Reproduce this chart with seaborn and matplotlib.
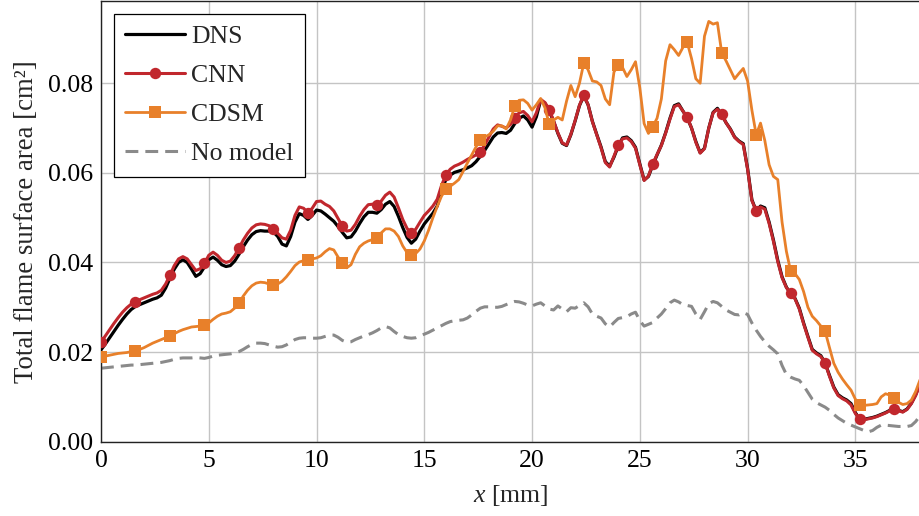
import numpy as np
import pandas as pd
import matplotlib
matplotlib.use("Agg")
import matplotlib.pyplot as plt
import seaborn as sns

# ---------------- data (every 0.2 mm) ----------------
x_mm = [round(0.2 * i, 1) for i in range(191)]  # 0.0 ... 38.0 mm

dns = [
    .0205, .0218, .0232, .0246, .0260, .0273, .0285, .0295, .0302, .0306,   # 0.0-1.8
    .0310, .0314, .0318, .0321, .0327, .0343, .0365, .0385, .0400, .0406,   # 2.0-3.8
    .0400, .0385, .0369, .0375, .0390, .0406, .0412, .0405, .0395, .0391,   # 4.0-5.8
    .0393, .0403, .0418, .0435, .0450, .0462, .0469, .0471, .0470, .0470,   # 6.0-7.8
    .0468, .0458, .0441, .0437, .0458, .0490, .0509, .0505, .0496, .0505,   # 8.0-9.8
    .0517, .0515, .0508, .0500, .0492, .0480, .0467, .0455, .0457, .0470,   # 10.0-11.8
    .0487, .0502, .0512, .0512, .0510, .0518, .0530, .0536, .0525, .0503,   # 12.0-13.8
    .0478, .0456, .0443, .0452, .0470, .0486, .0498, .0510, .0526, .0560,   # 14.0-15.8
    .0585, .0595, .0601, .0604, .0607, .0611, .0616, .0625, .0637, .0650,   # 16.0-17.8
    .0665, .0680, .0689, .0690, .0688, .0695, .0710, .0722, .0727, .0718,   # 18.0-19.8
    .0702, .0725, .0762, .0755, .0738, .0715, .0688, .0666, .0661, .0685,   # 20.0-21.8
    .0716, .0750, .0772, .0752, .0715, .0686, .0658, .0625, .0615, .0635,   # 22.0-23.8
    .0660, .0678, .0680, .0672, .0657, .0620, .0584, .0592, .0617, .0640,   # 24.0-25.8
    .0662, .0690, .0722, .0750, .0754, .0738, .0723, .0700, .0670, .0645,   # 26.0-27.8
    .0655, .0700, .0735, .0744, .0730, .0712, .0698, .0680, .0671, .0665,   # 28.0-29.8
    .0610, .0540, .0515, .0526, .0522, .0490, .0450, .0405, .0368, .0345,   # 30.0-31.8
    .0330, .0320, .0298, .0265, .0235, .0206, .0198, .0192, .0175, .0148,   # 32.0-33.8
    .0122, .0105, .0098, .0093, .0085, .0065, .0050, .0050, .0052, .0054,   # 34.0-35.8
    .0057, .0061, .0065, .0070, .0072, .0070, .0067, .0073, .0086, .0105,   # 36.0-37.8
    .0130]

cnn = [
    .0222, .0236, .0250, .0264, .0277, .0289, .0299, .0307, .0312, .0317,
    .0321, .0325, .0329, .0332, .0338, .0352, .0372, .0393, .0408, .0413,
    .0408, .0395, .0382, .0386, .0398, .0416, .0423, .0416, .0405, .0400,
    .0403, .0415, .0432, .0450, .0465, .0477, .0484, .0486, .0485, .0482,
    .0475, .0465, .0455, .0452, .0472, .0505, .0524, .0521, .0511, .0521,
    .0536, .0537, .0530, .0525, .0515, .0498, .0481, .0470, .0472, .0485,
    .0503, .0518, .0529, .0530, .0528, .0537, .0550, .0557, .0546, .0522,
    .0496, .0476, .0465, .0474, .0490, .0505, .0515, .0526, .0541, .0572,
    .0595, .0608, .0615, .0619, .0624, .0630, .0635, .0640, .0647, .0662,
    .0680, .0698, .0707, .0704, .0700, .0708, .0723, .0734, .0737, .0728,
    .0714, .0734, .0764, .0757, .0741, .0716, .0689, .0667, .0662, .0686,
    .0717, .0751, .0774, .0752, .0714, .0685, .0656, .0623, .0613, .0637,
    .0662, .0676, .0678, .0670, .0655, .0618, .0583, .0593, .0620, .0641,
    .0661, .0689, .0720, .0748, .0752, .0738, .0724, .0700, .0668, .0644,
    .0654, .0700, .0734, .0742, .0731, .0712, .0697, .0679, .0670, .0663,
    .0608, .0538, .0515, .0524, .0519, .0487, .0447, .0402, .0366, .0344,
    .0331, .0319, .0296, .0263, .0233, .0204, .0196, .0190, .0175, .0146,
    .0120, .0103, .0096, .0091, .0082, .0063, .0050, .0049, .0051, .0053,
    .0056, .0060, .0064, .0069, .0072, .0069, .0066, .0072, .0085, .0103,
    .0128]

cdsm = [
    .0190, .0191, .0193, .0195, .0197, .0198, .0199, .0201, .0202, .0206,
    .0210, .0215, .0220, .0224, .0228, .0232, .0236, .0241, .0246, .0250,
    .0253, .0256, .0257, .0258, .0260, .0265, .0273, .0280, .0285, .0287,
    .0290, .0298, .0309, .0325, .0338, .0348, .0354, .0356, .0355, .0352,
    .0350, .0352, .0358, .0368, .0380, .0393, .0401, .0404, .0406, .0408,
    .0410, .0415, .0424, .0431, .0428, .0412, .0399, .0388, .0395, .0418,
    .0435, .0443, .0448, .0451, .0454, .0466, .0475, .0475, .0470, .0458,
    .0437, .0422, .0417, .0420, .0430, .0448, .0472, .0500, .0525, .0548,
    .0563, .0570, .0577, .0585, .0603, .0622, .0640, .0658, .0673, .0680,
    .0685, .0693, .0705, .0705, .0698, .0718, .0749, .0762, .0763, .0755,
    .0740, .0752, .0766, .0745, .0708, .0718, .0724, .0718, .0760, .0795,
    .0770, .0800, .0845, .0830, .0805, .0803, .0795, .0765, .0752, .0825,
    .0841, .0835, .0815, .0830, .0848, .0790, .0710, .0688, .0703, .0722,
    .0765, .0850, .0886, .0875, .0862, .0880, .0891, .0855, .0810, .0800,
    .0905, .0938, .0932, .0935, .0868, .0850, .0830, .0810, .0822, .0833,
    .0805, .0740, .0685, .0711, .0672, .0618, .0592, .0585, .0490, .0425,
    .0380, .0375, .0362, .0335, .0300, .0280, .0270, .0258, .0246, .0210,
    .0175, .0155, .0140, .0127, .0115, .0095, .0082, .0081, .0082, .0083,
    .0085, .0100, .0107, .0104, .0098, .0088, .0083, .0085, .0093, .0112,
    .0138]

no_model = [
    .0164, .0165, .0166, .0167, .0168, .0169, .0170, .0171, .0171, .0172,
    .0173, .0174, .0175, .0176, .0177, .0179, .0181, .0184, .0186, .0187,
    .0187, .0187, .0188, .0187, .0186, .0188, .0191, .0193, .0194, .0195,
    .0196, .0198, .0201, .0206, .0212, .0217, .0220, .0220, .0219, .0216,
    .0213, .0211, .0212, .0216, .0222, .0228, .0231, .0232, .0232, .0231,
    .0231, .0232, .0235, .0238, .0238, .0233, .0226, .0222, .0223, .0228,
    .0232, .0236, .0239, .0243, .0248, .0254, .0257, .0254, .0246, .0239,
    .0235, .0232, .0231, .0232, .0236, .0240, .0244, .0249, .0254, .0259,
    .0264, .0268, .0270, .0271, .0272, .0276, .0283, .0291, .0298, .0301,
    .0301, .0300, .0300, .0302, .0306, .0310, .0313, .0312, .0309, .0305,
    .0303, .0307, .0310, .0303, .0296, .0294, .0303, .0296, .0290, .0299,
    .0298, .0304, .0310, .0301, .0285, .0280, .0276, .0263, .0256, .0266,
    .0275, .0277, .0279, .0285, .0289, .0270, .0258, .0262, .0266, .0276,
    .0285, .0297, .0310, .0316, .0312, .0306, .0304, .0302, .0285, .0273,
    .0290, .0308, .0313, .0310, .0302, .0294, .0289, .0284, .0283, .0288,
    .0284, .0265, .0249, .0235, .0223, .0213, .0205, .0196, .0170, .0150,
    .0144, .0140, .0137, .0125, .0110, .0095, .0087, .0082, .0077, .0070,
    .0061, .0053, .0047, .0041, .0037, .0033, .0029, .0025, .0022, .0025,
    .0032, .0037, .0037, .0036, .0035, .0034, .0034, .0034, .0036, .0045,
    .0058]

series_names = ["DNS", "CNN", "CDSM", "No model"]
x_label = "$x$ [mm]"
y_label = "Total flame surface area [cm²]"
x_ticks = [0, 5, 10, 15, 20, 25, 30, 35]
y_ticks = [0.00, 0.02, 0.04, 0.06, 0.08]

# ---------------- style ----------------
sns.set_style("whitegrid")
plt.rcParams["font.family"] = ["Liberation Serif", "DejaVu Serif"]
plt.rcParams["mathtext.fontset"] = "custom"
plt.rcParams["mathtext.it"] = "Liberation Serif:italic"
plt.rcParams["mathtext.rm"] = "Liberation Serif"

FS = 18.5
fig = plt.figure(figsize=(9.2, 5.16), dpi=100)
ax = fig.add_axes([101 / 920, 1 - 441.7 / 516, 1 - 101 / 920, (441.7 - 0.8) / 516])

df = pd.DataFrame({"x": x_mm, "DNS": dns, "CNN": cnn, "CDSM": cdsm, "No model": no_model})

sns.lineplot(data=df, x="x", y="DNS", ax=ax, color="black", lw=2.3,
             estimator=None, label=series_names[0], zorder=3)
sns.lineplot(data=df, x="x", y="CNN", ax=ax, color="#c1272d", lw=2.2,
             marker="o", markersize=8.2, markevery=8, markeredgewidth=0,
             estimator=None, label=series_names[1], zorder=4)
sns.lineplot(data=df, x="x", y="CDSM", ax=ax, color="#e8802a", lw=2.0,
             marker="s", markersize=8.3, markevery=8, markeredgewidth=0,
             estimator=None, label=series_names[2], zorder=5)
sns.lineplot(data=df, x="x", y="No model", ax=ax, color="#8a8a8a", lw=2.2,
             linestyle=(0, (4.2, 2.3)), estimator=None, label=series_names[3], zorder=2)

ax.set_xlim(0, 38)
ax.set_ylim(0, 0.0984)
ax.set_xticks(x_ticks)
ax.set_xticklabels([str(t) for t in x_ticks])
ax.set_yticks(y_ticks)
ax.set_yticklabels([f"{t:.2f}" for t in y_ticks])
ax.xaxis.set_minor_locator(matplotlib.ticker.MultipleLocator(1))
ax.yaxis.set_minor_locator(matplotlib.ticker.MultipleLocator(0.005))

ax.grid(True, which="major", color="#c4c4c4", lw=1.0)
ax.grid(False, which="minor")
ax.tick_params(which="both", direction="in", top=False, right=False,
               labelsize=FS, colors="black", pad=6)
ax.tick_params(which="major", length=3.5, width=1.0)
ax.tick_params(which="minor", length=2, width=0.8)
for name, sp in ax.spines.items():
    sp.set_color("#222222")
    sp.set_linewidth(1.0)
ax.spines["right"].set_visible(False)

ax.set_xlabel(x_label, fontsize=FS, labelpad=8)
ax.set_ylabel(y_label, fontsize=19.3, labelpad=6)

leg = ax.legend(loc="upper left", fontsize=FS, frameon=True, fancybox=False,
                edgecolor="black", framealpha=1.0, handlelength=2.3,
                handletextpad=0.25, labelspacing=0.62, borderpad=0.45,
                borderaxespad=0.5)
leg.get_frame().set_linewidth(0.9)

fig.savefig("out.png", dpi=100)
